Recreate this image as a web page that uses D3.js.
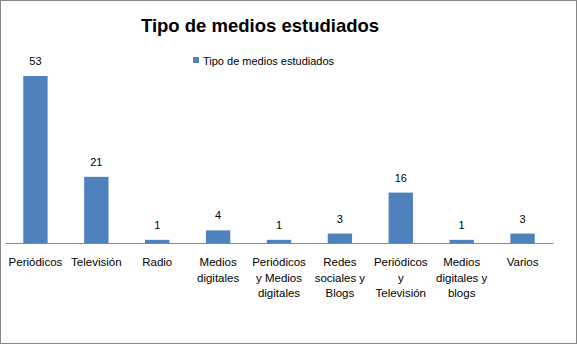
<!DOCTYPE html>
<html>
<head>
<meta charset="utf-8">
<script src="https://cdn.jsdelivr.net/npm/d3@7"></script>
<style>
  body { margin: 0; background: #fff; }
  text { font-family: "Liberation Sans", Arial, sans-serif; }
</style>
</head>
<body>
<script>
// data
let categories = ["Periódicos", "Televisión", "Radio", "Medios\ndigitales",
    "Periódicos\ny Medios\ndigitales", "Redes\nsociales y\nBlogs",
    "Periódicos\ny\nTelevisión", "Medios\ndigitales y\nblogs", "Varios"];
let values = [53, 21, 1, 4, 1, 3, 16, 1, 3];
let seriesName = "Tipo de medios estudiados";

function main() {
    let width = 578, height = 347;
    let svg = d3.select("body").append("svg")
        .attr("width", width)
        .attr("height", height);

    // outer chart border
    svg.append("rect")
        .attr("x", 0.5).attr("y", 0.5)
        .attr("width", 576).attr("height", 343)
        .attr("fill", "white")
        .attr("stroke", "#868686");

    let xScale = d3.scaleBand()
        .domain(categories)
        .range([5, 553])
        .paddingInner(0.6)
        .paddingOuter(0.3);

    let yScale = d3.scaleLinear()
        .domain([0, 53])
        .range([243, 76]);

    svg.append("text")
        .attr("x", 260)
        .attr("y", 32)
        .attr("text-anchor", "middle")
        .attr("font-size", 18.5)
        .attr("font-weight", "bold")
        .text(seriesName);

    // legend
    svg.append("rect")
        .attr("x", 193).attr("y", 57)
        .attr("width", 6).attr("height", 6)
        .attr("fill", "#4F81BD");
    svg.append("text")
        .attr("x", 203).attr("y", 64.5)
        .attr("font-size", 11)
        .text(seriesName);

    svg.selectAll(".bar")
        .data(values)
        .enter()
        .append("rect")
        .attr("class", "bar")
        .attr("x", (d, i) => xScale(categories[i]))
        .attr("width", xScale.bandwidth())
        .attr("y", d => yScale(d))
        .attr("height", d => yScale(0) - yScale(d))
        .attr("fill", "#4F81BD");

    svg.selectAll(".val")
        .data(values)
        .enter()
        .append("text")
        .attr("class", "val")
        .attr("x", (d, i) => xScale(categories[i]) + xScale.bandwidth() / 2)
        .attr("y", d => yScale(d) - 11)
        .attr("text-anchor", "middle")
        .attr("font-size", 11)
        .text(d => d);

    // x axis
    let xAxis = svg.append("g")
        .attr("transform", "translate(0,243)")
        .call(d3.axisBottom(xScale).tickSize(0).tickFormat(""));
    xAxis.select(".domain").attr("stroke", "#868686");

    let labels = svg.append("g").selectAll("text")
        .data(categories)
        .enter()
        .append("text")
        .attr("x", d => xScale(d) + xScale.bandwidth() / 2)
        .attr("y", 266)
        .attr("text-anchor", "middle")
        .attr("font-size", 11.5);
    labels.each(function(d) {
        let lines = d.split("\n");
        d3.select(this).selectAll("tspan")
            .data(lines)
            .enter()
            .append("tspan")
            .attr("x", d3.select(this).attr("x"))
            .attr("dy", (l, i) => i === 0 ? 0 : 15.5)
            .text(l => l);
    });
}

main();
</script>
</body>
</html>
